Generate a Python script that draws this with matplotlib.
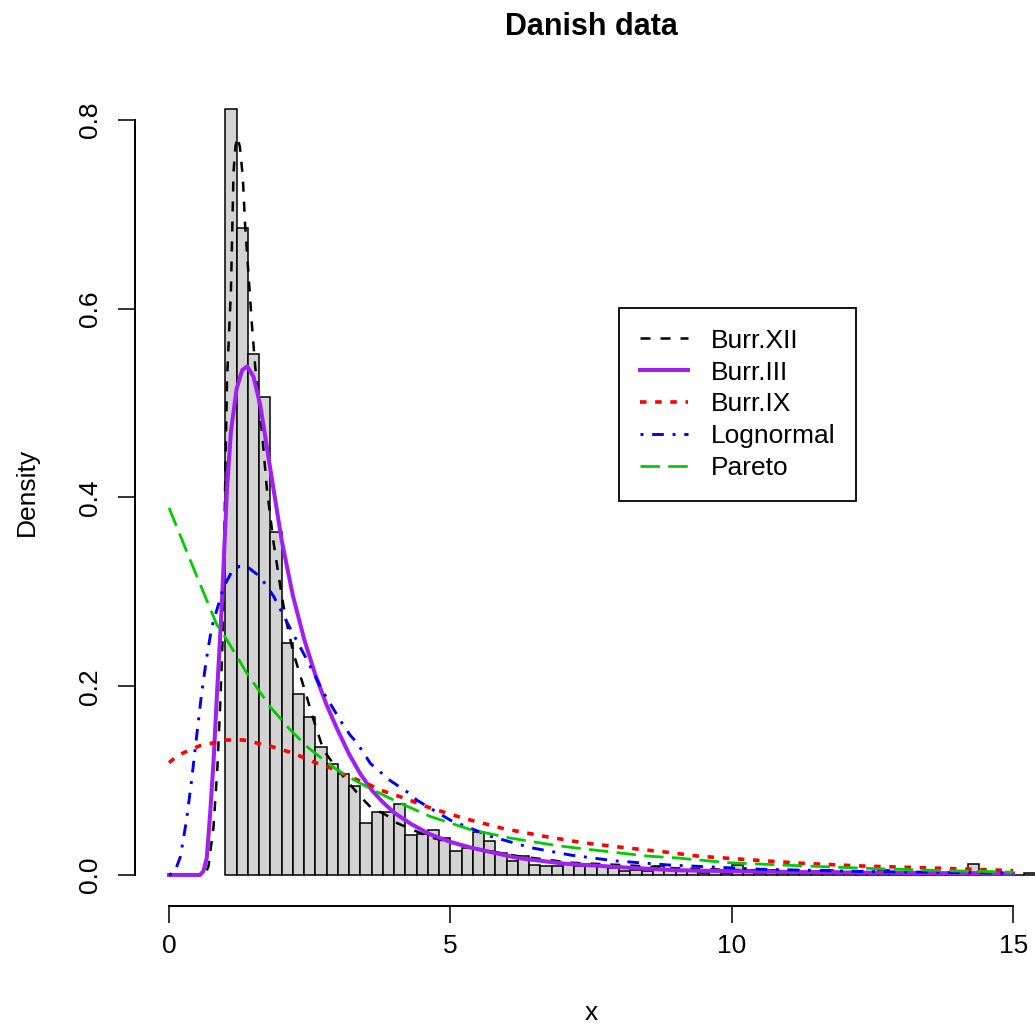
import matplotlib
matplotlib.use("Agg")
import matplotlib.pyplot as plt
import numpy as np

plt.rcParams["font.family"] = ["Liberation Sans", "DejaVu Sans"]

# histogram of the claims (bins of width 0.2 starting at 1.0)
bin_start = 1.0
bin_width = 0.2
hist_density = [
    0.812, 0.686, 0.552, 0.506, 0.363, 0.246, 0.192, 0.167, 0.136, 0.118,
    0.107, 0.094, 0.055, 0.067, 0.067, 0.075, 0.042, 0.043, 0.048, 0.039,
    0.025, 0.029, 0.045, 0.036, 0.023, 0.015, 0.020, 0.011, 0.009, 0.009,
    0.013, 0.010, 0.012, 0.010, 0.007, 0.004, 0.005, 0.004, 0.009, 0.006,
    0.005, 0.005, 0.002, 0.005, 0.002, 0.011, 0.005, 0.002, 0.005, 0.002,
    0.005, 0.002, 0.002, 0.005, 0.000, 0.002, 0.002, 0.002, 0.005, 0.002,
    0.000, 0.002, 0.000, 0.002, 0.002, 0.002, 0.0115, 0.002, 0.000, 0.002,
    0.000, 0.002, 0.000,
]

# fitted densities
burr12_x = [0, 0.60, 0.65, 0.70, 0.79, 0.86, 0.91, 0.955, 0.985, 1.03, 1.10, 1.145,
            1.18, 1.216, 1.26, 1.31, 1.35, 1.41, 1.47, 1.53, 1.65, 1.74, 1.86, 2.005,
            2.08, 2.21, 2.39, 2.57, 2.745, 2.92, 3.10, 3.40, 3.58, 3.87, 4.05, 4.64,
            5.36, 6.19, 7.14, 8.2, 9.0, 10.5, 12.0, 13.5, 15.0]
burr12_y = [0, 0, 0.002, 0.009, 0.051, 0.115, 0.182, 0.256, 0.373, 0.525, 0.62, 0.744,
            0.772, 0.782, 0.771, 0.74, 0.69, 0.638, 0.585, 0.539, 0.47, 0.408, 0.351, 0.295,
            0.27, 0.235, 0.2, 0.164, 0.132, 0.118, 0.104, 0.083, 0.072, 0.063, 0.055, 0.040,
            0.029, 0.020, 0.013, 0.010, 0.007, 0.0045, 0.0032, 0.0024, 0.0018]

burr3_x = [0, 0.55, 0.61, 0.67, 0.73, 0.79, 0.85, 0.91, 0.94, 1.03, 1.10, 1.20, 1.30,
           1.39, 1.50, 1.62, 1.80, 2.00, 2.20, 2.40, 2.60, 2.80, 3.00, 3.20, 3.40, 3.60,
           3.80, 4.00, 4.30, 4.64, 5.00, 5.36, 6.19, 7.02, 8.08, 9.0, 10.5, 12.0, 13.5, 15.0]
burr3_y = [0, 0, 0.004, 0.018, 0.065, 0.12, 0.19, 0.255, 0.29, 0.41, 0.47, 0.515, 0.535,
           0.539, 0.528, 0.498, 0.43, 0.355, 0.296, 0.25, 0.212, 0.18, 0.153, 0.128, 0.107, 0.09,
           0.077, 0.066, 0.054, 0.043, 0.035, 0.029, 0.018, 0.012, 0.008, 0.005, 0.0035, 0.0026, 0.002, 0.0015]

burr9_x = [0, 0.165, 0.55, 1.03, 1.32, 1.77, 2.21, 2.60, 2.81, 3.13, 3.58, 3.75, 4.2,
           4.64, 5.24, 5.95, 6.66, 7.37, 8.08, 8.86, 9.39, 10.19, 11.23, 12.3, 13.69, 15.0]
burr9_y = [0.119, 0.127, 0.137, 0.143, 0.143, 0.137, 0.129, 0.119, 0.115, 0.106, 0.095, 0.09, 0.081,
           0.071, 0.06, 0.049, 0.041, 0.034, 0.029, 0.024, 0.020, 0.0166, 0.0124, 0.0095, 0.0071, 0.0046]

lnorm_x = [0, 0.10, 0.20, 0.31, 0.40, 0.49, 0.58, 0.67, 0.76, 0.82, 0.97, 1.12, 1.25,
           1.38, 1.62, 1.86, 2.12, 2.45, 2.745, 2.86, 3.04, 3.22, 3.34, 3.58, 3.93, 4.23,
           4.41, 5.0, 5.71, 6.42, 7.14, 7.91, 8.86, 10.52, 12.5, 15.0]
lnorm_y = [0, 0.003, 0.019, 0.058, 0.10, 0.147, 0.193, 0.231, 0.263, 0.275, 0.305, 0.322, 0.327,
           0.327, 0.316, 0.295, 0.265, 0.228, 0.193, 0.182, 0.164, 0.148, 0.14, 0.118, 0.10, 0.088,
           0.079, 0.058, 0.041, 0.029, 0.021, 0.015, 0.0106, 0.006, 0.0035, 0.002]

pareto_x = [0, 0.4, 0.85, 1.03, 1.38, 1.80, 2.15, 2.45, 2.745, 3.04, 3.34, 3.63, 3.93,
            4.26, 4.64, 5.36, 6.07, 6.90, 7.61, 8.5, 9.03, 9.92, 11.1, 12.53, 13.78, 15.0]
pareto_y = [0.389, 0.33, 0.265, 0.249, 0.214, 0.178, 0.154, 0.136, 0.122, 0.109, 0.099, 0.09, 0.081,
            0.072, 0.062, 0.048, 0.039, 0.031, 0.026, 0.020, 0.018, 0.013, 0.010, 0.0067, 0.0046, 0.003]

labels = ["Burr.XII", "Burr.III", "Burr.IX", "Lognormal", "Pareto"]

W, H = 1035, 1027
fig = plt.figure(figsize=(W / 100, H / 100), dpi=100)
# plot region in pixels: left 135, right 1047 (cut off by the figure), top 78, bottom 906
ax = fig.add_axes([135.3 / W, 1 - 905.6 / H, (1046.9 - 135.3) / W, (905.6 - 78) / H])

edges = bin_start + bin_width * np.arange(len(hist_density))
ax.bar(edges, hist_density, width=bin_width, align="edge", color="#d3d3d3",
       edgecolor="black", linewidth=1.1, zorder=1)

ax.plot(burr12_x, burr12_y, color="black", lw=1.8, ls=(0, (4, 4)), label=labels[0], zorder=3)
ax.plot(burr3_x, burr3_y, color="#a020f0", lw=2.9, ls="-", label=labels[1], zorder=3)
ax.plot(burr9_x, burr9_y, color="red", lw=2.6, ls=(0, (1.8, 2.4)), label=labels[2], zorder=3)
ax.plot(lnorm_x, lnorm_y, color="blue", lw=2.1, ls=(0, (1, 3, 4, 3)), label=labels[3], zorder=3)
ax.plot(pareto_x, pareto_y, color="#00cd00", lw=2.0, ls=(0, (7, 3)), label=labels[4], zorder=3)

ymax = max(hist_density)
ax.set_xlim(-0.6, 15.6)
ax.set_ylim(-0.04 * ymax, 1.04 * ymax)

for side in ["top", "right"]:
    ax.spines[side].set_visible(False)
ax.spines["left"].set_bounds(0, 0.8)
ax.spines["bottom"].set_bounds(0, 15)
ax.spines["left"].set_linewidth(1.4)
ax.spines["bottom"].set_linewidth(1.4)

ax.set_xticks([0, 5, 10, 15])
ax.set_xticklabels(["0", "5", "10", "15"])
ax.set_yticks([0.0, 0.2, 0.4, 0.6, 0.8])
ax.set_yticklabels(["0.0", "0.2", "0.4", "0.6", "0.8"], rotation=90, va="center")
ax.tick_params(length=12.2, width=1.4, labelsize=19, color="#333333")
ax.tick_params(axis="x", pad=8)
ax.tick_params(axis="y", pad=12)

ax.set_xlabel("x", fontsize=19)
ax.xaxis.label.set_va("center")
ax.xaxis.set_label_coords(0.5, (905.6 - 1013) / 827.6)
ax.set_ylabel("Density", fontsize=19)
ax.yaxis.label.set_va("center")
ax.yaxis.set_label_coords((27 - 135.3) / 911.6, 0.5)

fig.text(591 / W, 1 - 27 / H, "Danish data", ha="center", va="center",
         fontsize=22, fontweight="bold")

leg = ax.legend(loc="upper left", bbox_to_anchor=(619 / W, 1 - 308 / H),
                bbox_transform=fig.transFigure, fontsize=19, frameon=True,
                fancybox=False, framealpha=1, edgecolor="black", borderaxespad=0,
                borderpad=0.78, labelspacing=0.3, handlelength=1.85, handletextpad=0.85)
leg.get_frame().set_linewidth(1.3)

fig.savefig("out.png", dpi=100)
